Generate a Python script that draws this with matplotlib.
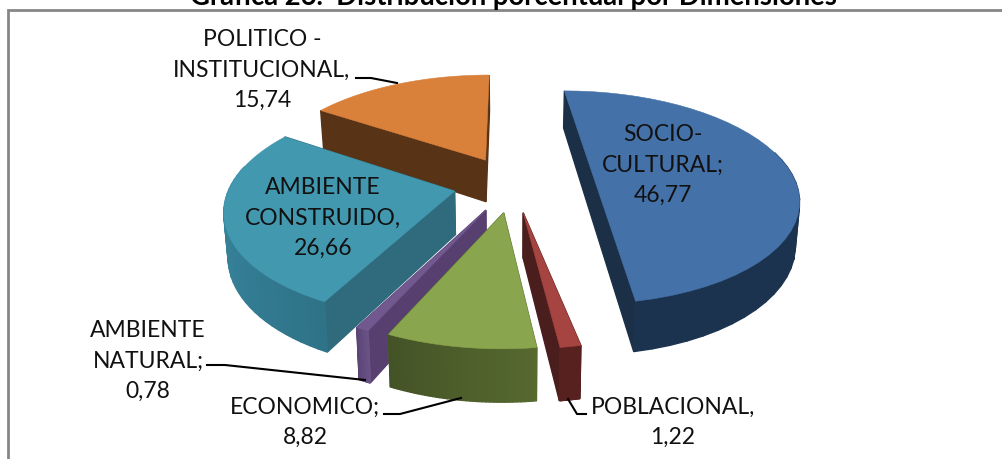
import numpy as np
import matplotlib
matplotlib.use('Agg')
import matplotlib.pyplot as plt

plt.rcParams['font.family'] = ['Lato', 'DejaVu Sans']

# Data
values = [46.77, 1.22, 8.82, 0.78, 26.66, 15.74]
top_colors = ['#4471a8', '#a64441', '#89a54e', '#71588f', '#4198af', '#d9803b']
side_colors = ['#1b2f47', '#4a1e1c', '#56692f', '#573f70', '#2f6b7d', '#583316']
rim_start = ['#1c3350', '#56211f', '#56692f', '#6a5287', '#2f7388', '#583316']
rim_end = ['#1c3350', '#56211f', '#445327', '#5a4474', '#3f93ae', '#583316']
title = 'Gráfica 26.  Distribución porcentual por Dimensiones'

# Pie geometry in pixels
x0, y0 = 513, 184
A, B, P = 224, 105, 0.154
EXPLODE = 0.267
DEPTH = 43


def project(X, Y, drop=0.0):
    w = 1 + P * Y
    sx = x0 + A * X / w
    sy = y0 - B * Y / w
    if drop:
        sx = x0 + (sx - x0) * 0.985
        sy = sy + DEPTH / w
    return sx, sy


def mix(c1, c2, t):
    a = np.array(matplotlib.colors.to_rgb(c1))
    b = np.array(matplotlib.colors.to_rgb(c2))
    return a + (b - a) * t


fig = plt.figure(figsize=(10.02, 4.59), dpi=100)
ax = fig.add_axes([0, 0, 1, 1])
ax.set_xlim(0, 1002)
ax.set_ylim(459, 0)
ax.axis('off')

edges = np.cumsum([0] + values) / sum(values) * 2 * np.pi

faces = []
tops = []
for i in range(len(values)):
    a0, a1 = edges[i], edges[i + 1]
    mid = (a0 + a1) / 2
    ox, oy = EXPLODE * np.sin(mid), EXPLODE * np.cos(mid)
    t = np.linspace(a0, a1, 40)
    rx, ry = ox + np.sin(t), oy + np.cos(t)
    top = np.array(project(rx, ry)).T
    sx0, sy0 = np.sin(a0) + ox, np.cos(a0) + oy
    sx1, sy1 = np.sin(a1) + ox, np.cos(a1) + oy

    if a1 - a0 > 2.8:
        # nearly half a pie: the two straight edges read as a single line
        tops.append((oy, top, top_colors[i]))
        quad = [project(sx0, sy0), project(sx1, sy1), project(sx1, sy1, 1), project(sx0, sy0, 1)]
        faces.append((min(sy0, sy1) + 0.01, quad, side_colors[i]))
    else:
        cx, cy = project(ox, oy)
        tops.append((oy, np.vstack([[cx, cy], top]), top_colors[i]))
        for ex, ey in ((sx0, sy0), (sx1, sy1)):
            quad = [project(ox, oy), project(ex, ey), project(ex, ey, 1), project(ox, oy, 1)]
            faces.append((min(oy, ey) + 0.01, quad, side_colors[i]))

    # outer wall, split in strips for the gradient
    for j in range(len(t) - 1):
        if np.cos((t[j] + t[j + 1]) / 2) > 0.25:
            continue
        quad = [project(rx[j], ry[j]), project(rx[j + 1], ry[j + 1]),
                project(rx[j + 1], ry[j + 1], 1), project(rx[j], ry[j], 1)]
        col = mix(rim_start[i], rim_end[i], j / (len(t) - 2))
        faces.append((ry[j] - 0.2, quad, col))

# back to front
faces.sort(key=lambda f: -f[0])
z = 2
for depth, quad, col in faces:
    ax.add_patch(plt.Polygon(quad, closed=True, fc=col, ec=col, lw=1.0, zorder=z))
    z += 0.001
for oy, poly, col in sorted(tops, key=lambda f: -f[0]):
    ax.add_patch(plt.Polygon(poly, closed=True, fc=col, ec=col, lw=0.4, zorder=5))

# Frame
ax.plot([8, 8, 1002], [459, 10, 10], color='#868686', lw=2, zorder=1, solid_joinstyle='miter')

# Title cut by the top of the image
ax.text(513, 4.5, title, ha='center', va='baseline', fontsize=19.8, fontweight='bold', color='black')

# Labels
fs = 16.5
ls = 1.54
col = '#111111'
ax.text(663, 165, 'SOCIO-\nCULTURAL;\n46,77', ha='center', va='center', fontsize=fs, color=col,
        linespacing=ls, zorder=8)
ax.text(323, 218, 'AMBIENTE\nCONSTRUIDO,\n26,66', ha='center', va='center', fontsize=fs, color=col,
        linespacing=ls, zorder=8)
ax.text(262, 70, 'POLITICO -\nINSTITUCIONAL,\n15,74', ha='center', va='center', fontsize=fs, color=col,
        linespacing=ls, zorder=8)
ax.text(148, 361, 'AMBIENTE\nNATURAL;\n0,78', ha='center', va='center', fontsize=fs, color=col,
        linespacing=ls, zorder=8)
ax.text(305, 422, 'ECONOMICO;\n8,82', ha='center', va='center', fontsize=fs, color=col,
        linespacing=ls, zorder=8)
ax.text(673, 422, 'POBLACIONAL,\n1,22', ha='center', va='center', fontsize=fs, color=col,
        linespacing=ls, zorder=8)

# Leader lines
ax.plot([356, 371, 397], [78, 78, 83], color='black', lw=1.5, zorder=8)
ax.plot([207, 225, 365], [365, 365, 380], color='black', lw=1.5, zorder=8)
ax.plot([384, 400, 461], [414, 414, 398], color='black', lw=1.5, zorder=8)
ax.plot([568, 577, 586], [399, 414, 414], color='black', lw=1.5, zorder=8)

plt.savefig('out.png', dpi=100)
